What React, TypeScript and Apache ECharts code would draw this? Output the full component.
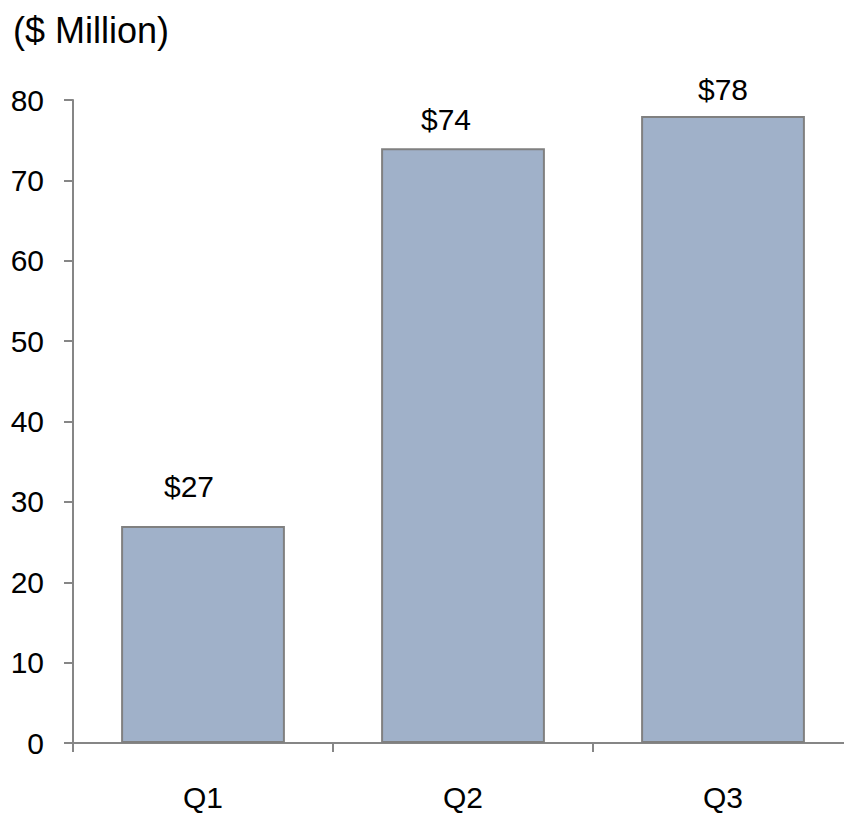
import React, { useEffect, useRef } from "react";
import * as echarts from "echarts";

const categories = ["Q1", "Q2", "Q3"];
const values = [27, 74, 78];
const labelTexts = ["$27", "$74", "$78"];
const yTicks = [0, 10, 20, 30, 40, 50, 60, 70, 80];

const FONT = "'Liberation Sans', Arial, sans-serif";

export default function App() {
  const ref = useRef<HTMLDivElement>(null);
  useEffect(() => {
    if (!ref.current) return;
    const chart = echarts.init(ref.current, undefined, { renderer: "svg" });
    const labelOffsets: [number, number][] = [
      [-14, -10],
      [-17, 0],
      [0, 2],
    ];
    chart.setOption({
      animation: false,
      backgroundColor: "#ffffff",
      title: {
        text: "($ Million)",
        left: 8,
        top: 7,
        textStyle: { fontFamily: FONT, fontSize: 36, fontWeight: "normal", color: "#000" },
      },
      grid: { left: 73, right: 7, top: 100, bottom: 72, containLabel: false },
      xAxis: {
        type: "category",
        data: categories,
        axisLine: { lineStyle: { color: "#868686", width: 2 } },
        axisTick: { show: true, length: 9, lineStyle: { color: "#868686", width: 2 } },
        axisLabel: { fontFamily: FONT, fontSize: 30, color: "#000", margin: 39 },
      },
      yAxis: {
        type: "value",
        min: yTicks[0],
        max: yTicks[yTicks.length - 1],
        interval: 10,
        splitLine: { show: false },
        axisLine: { show: true, lineStyle: { color: "#868686", width: 2 } },
        axisTick: { show: true, length: 9, lineStyle: { color: "#868686", width: 2 } },
        axisLabel: { fontFamily: FONT, fontSize: 30, color: "#000", margin: 29 },
      },
      series: [
        {
          type: "bar",
          barWidth: "63%",
          data: values.map((v, i) => ({
            value: v,
            label: { offset: labelOffsets[i] },
          })),
          itemStyle: { color: "#A0B1C9", borderColor: "#808080", borderWidth: 2 },
          label: {
            show: true,
            position: "top",
            distance: 14,
            fontFamily: FONT,
            fontSize: 30,
            color: "#000",
            formatter: (p: any) => labelTexts[p.dataIndex],
          },
        },
      ],
    });
    return () => chart.dispose();
  }, []);
  return (
    <div style={{ position: "fixed", left: 0, top: 0, width: 844, height: 815, overflow: "hidden", background: "#fff" }}>
      <div ref={ref} style={{ width: 860, height: 815 }} />
    </div>
  );
}
